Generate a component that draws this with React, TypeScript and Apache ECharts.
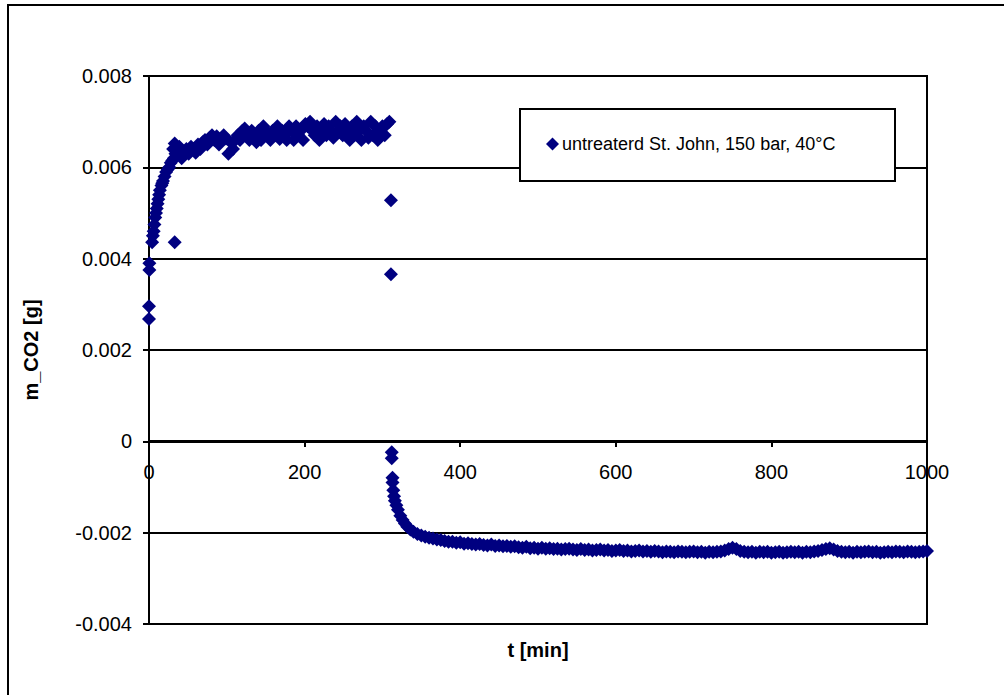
import React, { useEffect, useRef } from "react";
import * as echarts from "echarts";

const seriesName = "untreaterd St. John, 150 bar, 40°C";

// Uptake phase: time [min] and m_CO2 [g]
const uptakeTime = [
  0, 0, 0.5, 0.5, 4, 5, 6, 7, 8, 9, 10, 11, 12, 13, 14, 16, 17, 18, 20, 22, 24, 26, 28, 30, 31, 32, 33, 34,
  36, 39, 42, 45, 48, 51, 54, 57, 60, 63, 66, 69, 72, 75, 78, 81, 84, 87, 90, 93, 96, 99,
  102, 105, 108, 111, 114, 117, 120, 123, 126, 129, 132, 135, 138, 141, 144, 147, 150, 153, 156, 159,
  162, 165, 168, 171, 174, 177, 180, 183, 186, 189, 192, 195, 198, 201, 204, 207, 210, 213, 216, 219,
  222, 225, 228, 231, 234, 237, 240, 243, 246, 249, 252, 255, 258, 261, 264, 267, 270, 273, 276, 279,
  282, 285, 288, 291, 294, 297, 300, 303, 306, 309,
];
const uptakeMass = [
  0.00268, 0.00296, 0.00375, 0.0039, 0.00436, 0.0045, 0.0046, 0.00475, 0.0049, 0.005, 0.0051, 0.0052, 0.0053,
  0.0054, 0.0055, 0.0056, 0.00565, 0.0057, 0.0058, 0.0059, 0.00595, 0.006, 0.0061, 0.00615, 0.0064, 0.0062,
  0.00652, 0.0063,
  0.0063, 0.00645, 0.0062, 0.00635, 0.0064, 0.0063, 0.00645, 0.0064, 0.00632, 0.0065, 0.0064, 0.00655,
  0.0066, 0.0065, 0.00665, 0.0067, 0.0066, 0.00668, 0.0065, 0.0066, 0.0067, 0.00663,
  0.0063, 0.00655, 0.0064, 0.0066, 0.0067, 0.0066, 0.0068, 0.00685, 0.0067, 0.0066, 0.0068, 0.0067,
  0.00655, 0.0068, 0.0066, 0.0069, 0.0067, 0.00675, 0.0066, 0.0068,
  0.0067, 0.0069, 0.00662, 0.0068, 0.0067, 0.0066, 0.0069, 0.0068, 0.0066, 0.0069, 0.0067, 0.0068,
  0.0066, 0.00695, 0.0069, 0.007, 0.0068, 0.0067, 0.0069, 0.0066,
  0.0068, 0.00695, 0.0067, 0.0069, 0.0068, 0.00665, 0.007, 0.0068, 0.0069, 0.0067, 0.00695, 0.0068,
  0.0066, 0.0069, 0.0067, 0.007, 0.0068, 0.0066, 0.0069, 0.0068,
  0.00665, 0.007, 0.0067, 0.0069, 0.0066, 0.0068, 0.0069, 0.0067, 0.00695, 0.007,
];

// Isolated readings
const outlierTime = [33, 311, 311];
const outlierMass = [0.00436, 0.00528, 0.00366];

// Release phase after depressurisation
const releaseTime = [
  312, 312, 313, 313, 314, 315, 316, 318, 320, 323, 326, 329, 332, 336, 340, 345, 350, 355, 360, 365, 370,
  375, 380, 385, 390, 395, 400, 405, 410, 415, 420, 425, 430, 435, 440, 445, 450, 455, 460, 465, 470,
  475, 480, 485, 490, 495, 500, 505, 510, 515, 520, 525, 530, 535, 540, 545, 550, 555, 560, 565, 570,
  575, 580, 585, 590, 595, 600, 605, 610, 615, 620, 625, 630, 635, 640, 645, 650, 655, 660, 665, 670,
  675, 680, 685, 690, 695, 700, 705, 710, 715, 720, 725, 730, 735, 740, 745, 750, 755, 760, 765, 770,
  775, 780, 785, 790, 795, 800, 805, 810, 815, 820, 825, 830, 835, 840, 845, 850, 855, 860, 865, 870,
  875, 880, 885, 890, 895, 900, 905, 910, 915, 920, 925, 930, 935, 940, 945, 950, 955, 960, 965, 970,
  975, 980, 985, 990, 995, 1000,
];
const releaseMass = [
  -0.00024, -0.00037, -0.0008, -0.0009, -0.00107, -0.0012, -0.0013, -0.0014, -0.0015, -0.00163, -0.00172,
  -0.0018, -0.00187, -0.00193, -0.00198, -0.00203, -0.00206, -0.00209, -0.00211, -0.00213, -0.00215,
  -0.00216, -0.00218, -0.0022, -0.0022, -0.00222, -0.00221, -0.00224, -0.00223, -0.00225, -0.00226,
  -0.00225, -0.00227, -0.00228, -0.00226, -0.00229, -0.00228, -0.0023, -0.00229, -0.00231, -0.0023,
  -0.00232, -0.00233, -0.00231, -0.00234, -0.00233, -0.00235, -0.00233, -0.00235, -0.00234, -0.00236,
  -0.00235, -0.00237, -0.00236, -0.00235, -0.00237, -0.00238, -0.00236, -0.00238, -0.00237, -0.00239,
  -0.00238, -0.00237, -0.00239, -0.00238, -0.0024, -0.00239, -0.00238, -0.0024, -0.00239, -0.00241,
  -0.0024, -0.00239, -0.00241, -0.0024, -0.00242, -0.0024, -0.00241, -0.00243, -0.00241, -0.00242,
  -0.00243, -0.00241, -0.00242, -0.00243, -0.00242, -0.00241, -0.00243, -0.00242, -0.00244, -0.00242,
  -0.00243, -0.00242, -0.00241, -0.00239, -0.00236, -0.00233, -0.00236, -0.0024, -0.00242, -0.00243,
  -0.00242, -0.00244, -0.00242, -0.00243, -0.00242, -0.00244, -0.00243, -0.00242, -0.00244, -0.00243,
  -0.00242, -0.00243, -0.00242, -0.00244, -0.00242, -0.00243, -0.00241, -0.0024, -0.00238, -0.00236,
  -0.00234, -0.00237, -0.0024, -0.00242, -0.00243, -0.00242, -0.00244, -0.00242, -0.00243, -0.00242,
  -0.00241, -0.00243, -0.00242, -0.00244, -0.00243, -0.00242, -0.00243, -0.00241, -0.00242, -0.00243,
  -0.00241, -0.00242, -0.00243, -0.00242, -0.00241, -0.0024,
];

const xTitle = "t [min]";
const yTitle = "m_CO2 [g]";

const FONT = "'Liberation Sans', Arial, sans-serif";

function zip(t: number[], v: number[]): number[][] {
  return t.map((x, i) => [x, v[i]]);
}

export default function App() {
  const ref = useRef<HTMLDivElement>(null);

  useEffect(() => {
    if (!ref.current) return;
    const chart = echarts.init(ref.current, null, { renderer: "svg" });
    const data = [
      ...zip(uptakeTime, uptakeMass),
      ...zip(outlierTime, outlierMass),
      ...zip(releaseTime, releaseMass),
    ];
    chart.setOption({
      animation: false,
      backgroundColor: "#ffffff",
      textStyle: { fontFamily: FONT },
      grid: {
        left: 149,
        top: 76,
        width: 778,
        height: 548,
        show: true,
        borderColor: "#000",
        borderWidth: 2,
        backgroundColor: "transparent",
        outerBoundsMode: "none",
      },
      graphic: [
        {
          type: "rect",
          z: 0,
          silent: true,
          shape: { x: 8, y: 5, width: 1100, height: 800 },
          style: { fill: "none", stroke: "#000", lineWidth: 2 },
        },
        {
          type: "rect",
          z: 50,
          silent: true,
          shape: { x: 520, y: 109, width: 375, height: 72 },
          style: { fill: "#fff", stroke: "#000", lineWidth: 2 },
        },
      ],
      legend: {
        z: 100,
        left: 546,
        top: 135,
        padding: 0,
        itemWidth: 13,
        itemHeight: 13,
        itemGap: 0,
        textStyle: { fontFamily: FONT, fontSize: 18, color: "#000", padding: [0, 0, 0, -2] },
        data: [{ name: seriesName, icon: "diamond" }],
      },
      xAxis: {
        type: "value",
        min: 0,
        max: 1000,
        interval: 200,
        offset: -183,
        name: xTitle,
        nameLocation: "middle",
        nameGap: 199,
        nameTextStyle: { fontFamily: FONT, fontSize: 20, fontWeight: "bold", color: "#000" },
        axisLine: { show: true, onZero: false, lineStyle: { color: "#000", width: 2 } },
        axisTick: { show: true, inside: false, length: 6, lineStyle: { color: "#000", width: 2 } },
        axisLabel: {
          fontFamily: FONT,
          fontSize: 20,
          color: "#000",
          margin: 21,
          formatter: (v: number) => String(v),
        },
        splitLine: { show: false },
      },
      yAxis: {
        type: "value",
        min: -0.004,
        max: 0.008,
        interval: 0.002,
        name: yTitle,
        nameLocation: "middle",
        nameGap: 108,
        nameTextStyle: { fontFamily: FONT, fontSize: 20, fontWeight: "bold", color: "#000" },
        axisLine: { show: true, onZero: false, lineStyle: { color: "#000", width: 2 } },
        axisTick: { show: true, inside: false, length: 6, lineStyle: { color: "#000", width: 2 } },
        axisLabel: { fontFamily: FONT, fontSize: 20, color: "#000", margin: 17 },
        splitLine: { show: true, lineStyle: { color: "#000", width: 2 } },
      },
      series: [
        {
          name: seriesName,
          type: "scatter",
          symbol: "diamond",
          symbolSize: 14,
          itemStyle: { color: "#000080", opacity: 1 },
          data,
        },
      ],
    });
    return () => chart.dispose();
  }, []);

  return (
    <div
      ref={ref}
      style={{ position: "fixed", left: 0, top: 0, width: 1004, height: 695, background: "#fff" }}
    />
  );
}
